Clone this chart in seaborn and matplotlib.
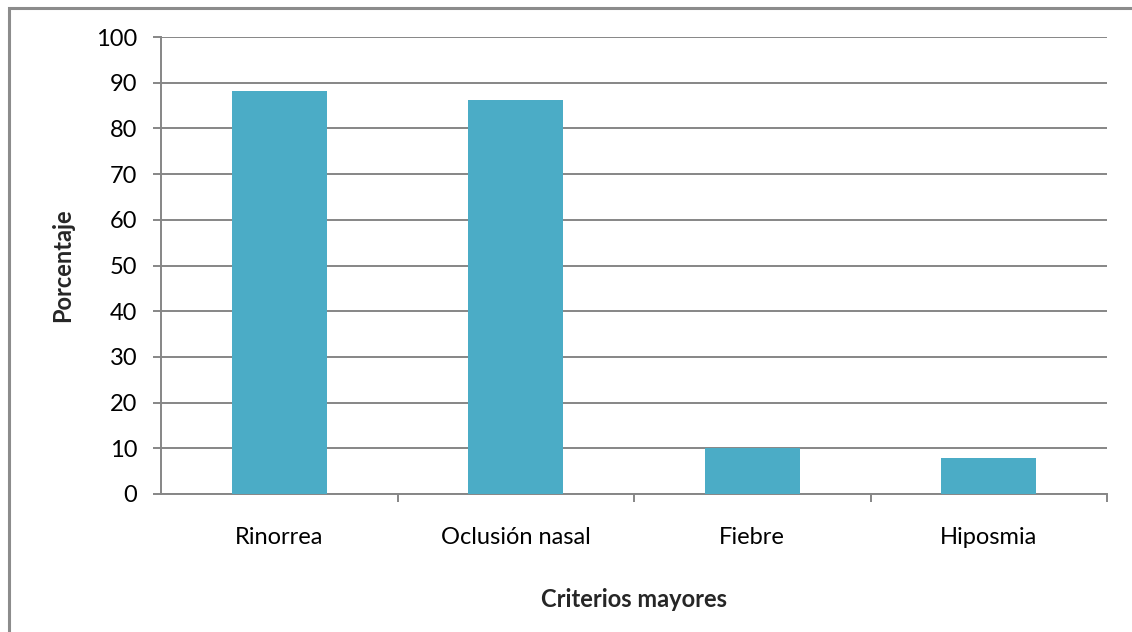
import matplotlib
matplotlib.use("Agg")
import matplotlib.pyplot as plt
import matplotlib.patches as mpatches
from matplotlib.ticker import FixedLocator
import seaborn as sns
import pandas as pd

# Criterios mayores y su porcentaje
categorias = ["Rinorrea", "Oclusión nasal", "Fiebre", "Hiposmia"]
porcentajes = [88.2, 86.3, 10.0, 7.8]
y_ticks = list(range(0, 101, 10))

df = pd.DataFrame({"criterio": categorias, "porcentaje": porcentajes})

sns.set_style("white")
plt.rcParams["font.family"] = ["Lato", "DejaVu Sans"]

W, H = 1132, 632
fig = plt.figure(figsize=(W / 100, H / 100), dpi=100)
ax = fig.add_axes([161 / W, 1 - 494 / H, (1107 - 161) / W, (494 - 37) / H])

grid_col = "#868686"
bar_col = "#4BACC6"
fs = 17

sns.barplot(data=df, x="criterio", y="porcentaje", color=bar_col,
            width=0.4, saturation=1, linewidth=0, ax=ax, zorder=3)

ax.set_xlim(-0.5, len(categorias) - 0.5)
ax.set_ylim(0, 100)
ax.yaxis.set_major_locator(FixedLocator(y_ticks))
ax.yaxis.grid(True, color=grid_col, linewidth=1.4, zorder=0)
ax.set_axisbelow(True)

for side in ["top", "right"]:
    ax.spines[side].set_visible(False)
for side in ["left", "bottom"]:
    ax.spines[side].set_color(grid_col)
    ax.spines[side].set_linewidth(1.4)

# separators between categories on the x axis
ax.xaxis.set_minor_locator(FixedLocator([i + 0.5 for i in range(len(categorias))]))
ax.tick_params(axis="x", which="major", length=0, pad=24, labelsize=fs, colors="black")
ax.tick_params(axis="x", which="minor", length=6, width=1.4, color=grid_col, direction="out", bottom=True)
ax.tick_params(axis="y", which="major", length=6, width=1.4, color=grid_col, pad=11,
               labelsize=fs, labelcolor="black", left=True)

ax.set_xlabel("Criterios mayores", fontsize=fs, fontweight="bold")
ax.set_ylabel("Porcentaje", fontsize=fs, fontweight="bold")
ax.xaxis.set_label_coords(0.5, -0.23)
ax.yaxis.set_label_coords(-0.104, 0.5)
ax.xaxis.label.set_va("center")
ax.yaxis.label.set_va("center")

# chart frame
frame = mpatches.Rectangle((9 / W, -0.2), 1.3, 1.2 - 8 / H, transform=fig.transFigure,
                           fill=False, edgecolor="#8C8C8C", linewidth=2.2, clip_on=False)
fig.patches.append(frame)

fig.savefig("out.png", dpi=100, facecolor="white")
